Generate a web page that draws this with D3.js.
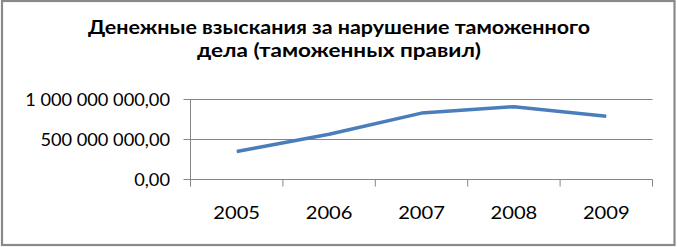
<!DOCTYPE html>
<html><head><meta charset="utf-8">
<script src="https://cdn.jsdelivr.net/npm/d3@7"></script>
<style>body{margin:0;background:#fff}svg{display:block}text{font-family:Lato,"Open Sans",sans-serif;fill:#000}</style>
</head><body><div id="c"></div>
<script>
const titleLines = ["Денежные взыскания за нарушение таможенного", "дела (таможенных правил)"];
const years = ["2005", "2006", "2007", "2008", "2009"];
const values = [350000000, 565000000, 830000000, 910000000, 790000000];
const yTicks = [0, 500000000, 1000000000];

(function () {
const W = 677, H = 247;
const svg = d3.select("#c").append("svg").attr("width", W).attr("height", H);
svg.append("rect").attr("width", W).attr("height", H).attr("fill", "#fff");
svg.append("rect").attr("x", 2).attr("y", 1).attr("width", 672.5).attr("height", 244)
  .attr("fill", "none").attr("stroke", "#898989").attr("stroke-width", 2.2);

const stretch = (sel, f) => sel.each(function () {
  const L = this.getComputedTextLength();
  d3.select(this).attr("textLength", L * f).attr("lengthAdjust", "spacingAndGlyphs");
});

const titleW = [502, 284];
titleLines.forEach((s, i) => {
  const tt = svg.append("text").attr("text-anchor", "middle").attr("font-weight", "bold")
    .attr("font-size", 18).attr("x", 339).attr("y", 34 + i * 23).text(s);
  const L = tt.node().getComputedTextLength();
  tt.attr("textLength", titleW[i]).attr("lengthAdjust", "spacingAndGlyphs");
});

const pl = 190.5, pr = 652.5, pt = 99.5, pb = 179.5;
const x = d3.scaleBand().domain(years).range([pl, pr]);
const y = d3.scaleLinear().domain([0, 1000000000]).range([pb, pt]);
const fmt = v => d3.format(",.2f")(v).replace(/,/g, " ").replace(".", ",");

const g = svg.append("g");
g.selectAll("line.grid").data(yTicks).join("line").attr("class", "grid")
  .attr("x1", pl - 7).attr("x2", pr).attr("y1", d => y(d)).attr("y2", d => y(d))
  .attr("stroke", "#868686").attr("stroke-width", 1);
g.append("line").attr("x1", pl).attr("x2", pl).attr("y1", pt).attr("y2", pb + 7)
  .attr("stroke", "#868686");
const edges = years.map(d => x(d)).concat([pr]);
g.selectAll("line.xt").data(edges).join("line").attr("class", "xt")
  .attr("x1", d => d).attr("x2", d => d).attr("y1", pb).attr("y2", pb + 7)
  .attr("stroke", "#868686");
g.selectAll("text.yl").data(yTicks).join("text").attr("class", "yl")
  .attr("x", 170).attr("y", d => y(d)).attr("dy", "0.35em").attr("text-anchor", "end")
  .attr("font-size", 17.5).text(d => fmt(d)).call(stretch, 1.04);
g.selectAll("text.xl").data(years).join("text").attr("class", "xl")
  .attr("x", d => x(d) + x.bandwidth() / 2).attr("y", 219).attr("text-anchor", "middle")
  .attr("font-size", 17.5).text(d => d).call(stretch, 1.15);
const line = d3.line().x((d, i) => x(years[i]) + x.bandwidth() / 2).y(d => y(d));
svg.append("path").datum(values).attr("d", line).attr("fill", "none")
  .attr("stroke", "#4a7ebb").attr("stroke-width", 3.5).attr("stroke-linejoin", "round");
})();
</script></body></html>
